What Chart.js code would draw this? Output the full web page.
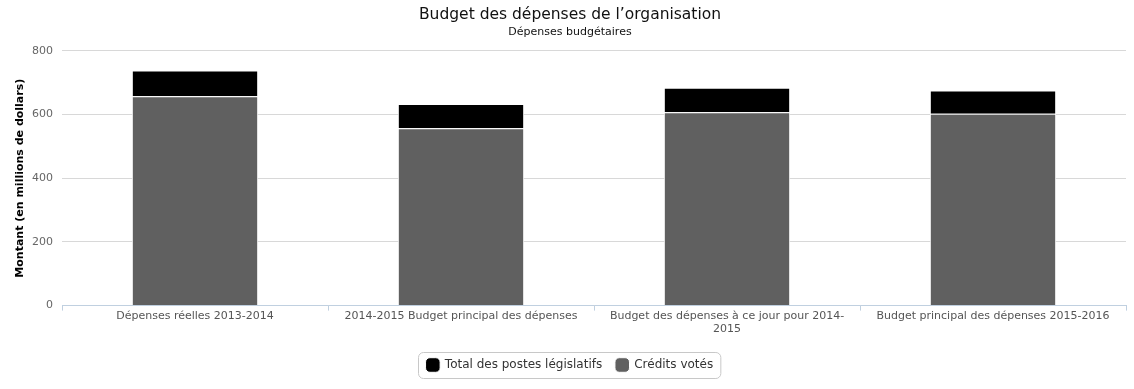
<!DOCTYPE html>
<html>
<head>
<meta charset="utf-8">
<script src="https://cdn.jsdelivr.net/npm/chart.js@4.4.1/dist/chart.umd.min.js"></script>
<style>
  html, body { margin: 0; padding: 0; background: #fff; }
  #wrap { width: 1134px; height: 389px; }
</style>
</head>
<body>
<div id="wrap"><canvas id="budgetChart"></canvas></div>
<script>
// categories (multi-line labels are arrays)
const categories = [
    "Dépenses réelles 2013-2014",
    "2014-2015 Budget principal des dépenses",
    ["Budget des dépenses à ce jour pour 2014-", "2015"],
    "Budget principal des dépenses 2015-2016"
];
// millions de dollars
const creditsVotes = [657, 557, 607, 602];
const postesLegislatifs = [81, 76, 77, 73];
const yTicks = [0, 200, 400, 600, 800];

const FONT = "'DejaVu Sans', Verdana, sans-serif";

// draws the rounded frame round the legend items
const legendFrame = {
    id: "legendFrame",
    afterDraw(chart) {
        const boxes = chart.legend && chart.legend.legendHitBoxes;
        if (!boxes || !boxes.length) return;
        const ctx = chart.ctx;
        let left = Math.min(...boxes.map(b => b.left));
        let right = Math.max(...boxes.map(b => b.left + b.width));
        let top = Math.min(...boxes.map(b => b.top));
        let bottom = Math.max(...boxes.map(b => b.top + b.height));
        ctx.save();
        ctx.strokeStyle = "#c8c8c8";
        ctx.lineWidth = 1;
        ctx.beginPath();
        ctx.roundRect(Math.round(left - 9) + 0.5, Math.round(top - 7) + 0.5, right - left + 16, bottom - top + 14, 5);
        ctx.stroke();
        ctx.restore();
    }
};

document.addEventListener("DOMContentLoaded", function() {
    const ctx = document.getElementById("budgetChart").getContext("2d");

    new Chart(ctx, {
        type: "bar",
        data: {
            labels: categories,
            datasets: [
                {
                    label: "Crédits votés",
                    data: creditsVotes,
                    backgroundColor: "#606060",
                    borderColor: "#ffffff",
                    borderWidth: 1
                },
                {
                    label: "Total des postes législatifs",
                    data: postesLegislatifs,
                    backgroundColor: "#000000",
                    borderColor: "#ffffff",
                    borderWidth: 1
                }
            ]
        },
        plugins: [legendFrame],
        options: {
            responsive: true,
            maintainAspectRatio: false,
            animation: false,
            layout: { padding: { left: 14, right: 8, top: 4, bottom: 8 } },
            datasets: {
                bar: { categoryPercentage: 1, barPercentage: 0.475 }
            },
            scales: {
                x: {
                    stacked: true,
                    afterFit(scale) { scale.height += 10; },
                    grid: {
                        offset: true,
                        drawOnChartArea: false,
                        drawTicks: true,
                        tickLength: 5,
                        color: "#c0d0e0"
                    },
                    border: { color: "#c0d0e0" },
                    ticks: {
                        color: "#555",
                        font: { family: FONT, size: 11 },
                        maxRotation: 0,
                        autoSkip: false,
                        padding: -1
                    }
                },
                y: {
                    stacked: true,
                    min: 0,
                    max: 800,
                    afterFit(scale) { scale.width = 48; },
                    afterBuildTicks(axis) {
                        axis.ticks = yTicks.map(v => ({ value: v }));
                    },
                    grid: { color: "#d8d8d8", drawTicks: false },
                    border: { display: false },
                    ticks: {
                        color: "#666",
                        font: { family: FONT, size: 11 },
                        padding: 9
                    },
                    title: {
                        display: true,
                        text: "Montant (en millions de dollars)",
                        color: "#000",
                        font: { family: FONT, size: 11, weight: "bold" },
                        padding: { top: 0, bottom: 0 }
                    }
                }
            },
            plugins: {
                title: {
                    display: true,
                    text: "Budget des dépenses de l’organisation",
                    color: "#111",
                    font: { family: FONT, size: 15.5, weight: "normal" },
                    padding: { top: 2, bottom: 1 }
                },
                subtitle: {
                    display: true,
                    text: "Dépenses budgétaires",
                    color: "#111",
                    font: { family: FONT, size: 11 },
                    padding: { top: 0, bottom: 12 }
                },
                legend: {
                    position: "bottom",
                    reverse: true,
                    labels: {
                        color: "#333",
                        font: { family: FONT, size: 12 },
                        usePointStyle: true,
                        pointStyle: "rectRounded",
                        boxWidth: 14,
                        boxHeight: 14,
                        padding: 14
                    }
                },
                tooltip: { enabled: false }
            }
        }
    });
});
</script>
</body>
</html>
